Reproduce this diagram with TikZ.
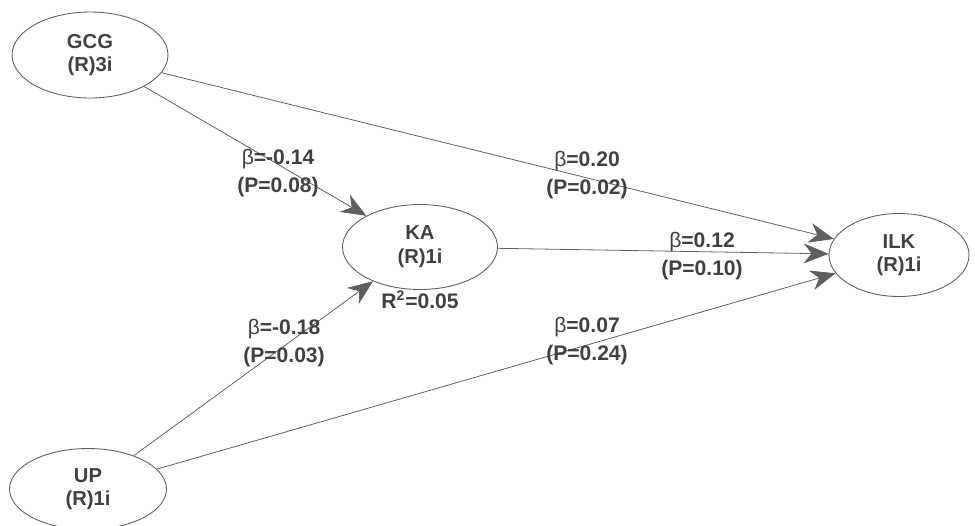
\documentclass[tikz,border=0pt]{standalone}
\usepackage{fontspec}
\setmainfont{Liberation Sans}
\usetikzlibrary{shapes.geometric,arrows.meta}
\definecolor{ink}{RGB}{65,65,65}
\definecolor{edge}{RGB}{95,95,95}
\newcommand{\bt}{{\mdseries β}}
\tikzset{
  construct/.style={ellipse, draw=edge, line width=0.5pt, inner sep=0pt, text=ink,
    font=\bfseries\fontsize{11.5}{13.5}\selectfont, align=center},
  path/.style={draw=edge, line width=0.45pt, -{Stealth[length=5mm,width=4mm,inset=1.6mm]}},
  lbl/.style={text=ink, font=\bfseries\fontsize{12}{15.5}\selectfont, align=center, inner sep=0pt}
}
\begin{document}
\begin{tikzpicture}[x=0.02cm,y=-0.02cm]
\useasboundingbox (0,0) rectangle (975,525);
\node[construct, minimum width=3.12cm, minimum height=1.72cm] (gcg) at (90,55) {GCG\\(R)3i};
\node[construct, minimum width=3.1cm, minimum height=1.7cm] (ka) at (420,247) {KA\\(R)1i};
\node[construct, minimum width=2.8cm, minimum height=1.66cm] (ilk) at (899,255) {ILK\\(R)1i};
\node[construct, minimum width=3.14cm, minimum height=1.62cm] (up) at (88,489) {UP\\(R)1i};
\node[lbl] (r2) at (420,300) {R$^{\mathbf 2}$=0.05};
\draw[path] (gcg) -- (ka);
\draw[path] (gcg) -- (ilk);
\draw[path] (ka) -- (ilk);
\draw[path] (up) -- (ka);
\draw[path] (up) -- (ilk);
\node[lbl] (l1) at (278,173) {\bt=-0.14\\(P=0.08)};
\node[lbl] (l2) at (587,175) {\bt=0.20\\(P=0.02)};
\node[lbl] (l3) at (702,256) {\bt=0.12\\(P=0.10)};
\node[lbl] (l4) at (284,343) {\bt=-0.18\\(P=0.03)};
\node[lbl] (l5) at (587,341) {\bt=0.07\\(P=0.24)};
\end{tikzpicture}
\end{document}
